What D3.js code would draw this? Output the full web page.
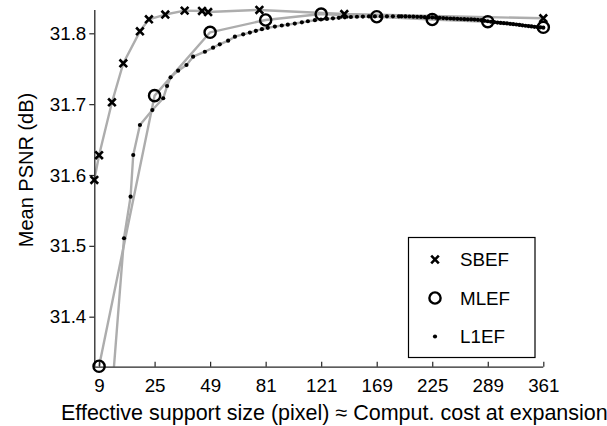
<!DOCTYPE html>
<html>
<head>
<meta charset="utf-8">
<script src="https://cdn.jsdelivr.net/npm/d3@7"></script>
<style>
  html, body { margin: 0; padding: 0; background: #fff; }
  svg { display: block; }
  text { font-family: "Liberation Sans", Arial, Helvetica, sans-serif; fill: #000; }
</style>
</head>
<body>
<svg id="chart" width="607" height="426"></svg>
<script>
// ---- data ----
const xTicks = [9, 25, 49, 81, 121, 169, 225, 289, 361];
const yTicks = [31.4, 31.5, 31.6, 31.7, 31.8];
const xLabel = "Effective support size (pixel) \u2248 Comput. cost at expansion";
const yLabel = "Mean PSNR (dB)";
const seriesNames = ["SBEF", "MLEF", "L1EF"];

const sbefX = [8, 9, 12, 15, 20, 23, 29, 37, 45, 48, 77, 140, 361];
const sbefY = [31.593, 31.628, 31.7026, 31.7577, 31.8028, 31.8198, 31.8265, 31.832, 31.8315, 31.830, 31.833, 31.8272, 31.8212];

const mlefX = [9, 25, 49, 81, 121, 169, 225, 289, 361];
const mlefY = [31.33, 31.712, 31.8014, 31.8188, 31.8272, 31.8234, 31.8195, 31.8164, 31.8085];

const l1efX = [9, 15.2, 17.1, 17.9, 20.0, 24.2, 28.2, 29.7, 31.1, 34.2, 37.8, 40.8, 46.4, 50.5, 54.0, 58.5, 62.3, 67.1, 71.1, 74.8,
  78.6, 82.4, 87.1, 91.8, 96.0, 101.0, 106.2, 110.7, 116.1, 120.8, 125.6, 130.5, 135.4, 140.5, 145.7, 151.0, 156.3, 161.8, 167.3, 172.9, 178.7, 184.5, 190.4,
  193, 197, 201, 205, 209, 213, 217, 221, 225, 229, 233, 237, 241, 245, 249, 253, 257, 261, 265, 269, 273, 277, 281, 285, 289, 293, 297,
  301, 305, 309, 313, 317, 321, 325, 329, 333, 337, 341, 345, 349, 353, 357, 361];
const l1efY = [31.06, 31.5107, 31.5694, 31.6282, 31.6706, 31.6917, 31.7083, 31.7256, 31.7379, 31.7472, 31.7553, 31.767, 31.774, 31.7797, 31.7845, 31.7896, 31.7952, 31.7986, 31.8010, 31.8035,
  31.8058, 31.8078, 31.8095, 31.8110, 31.8122, 31.8138, 31.8155, 31.8170, 31.8185, 31.8195, 31.8203, 31.8211, 31.8219, 31.8225, 31.8230, 31.8234, 31.8236, 31.8238, 31.8239, 31.8240, 31.8240, 31.8240, 31.8240,
  31.8240, 31.8238, 31.8237, 31.8235, 31.8233, 31.8231, 31.8228, 31.8226, 31.8224, 31.8221, 31.8218, 31.8215, 31.8212, 31.8209, 31.8206, 31.8204, 31.8202, 31.8200, 31.8198, 31.8196, 31.8194, 31.8191, 31.8185, 31.8177, 31.8170, 31.8163, 31.8157,
  31.8152, 31.8147, 31.8143, 31.8139, 31.8134, 31.8129, 31.8124, 31.8118, 31.8113, 31.8107, 31.8102, 31.8097, 31.8092, 31.8088, 31.8084, 31.8080];

// ---- layout ----
const plotL = 94.3, plotR = 543.3, plotT = 10, plotB = 366.7;
const yMin = 31.3294, yMax = 31.8329;

const svg = d3.select("#chart");
const x = d3.scaleSqrt().domain([8, 361]).range([plotL, plotR]);
const y = d3.scaleLinear().domain([yMin, yMax]).range([plotB, plotT]);

svg.append("defs").append("clipPath").attr("id", "clip")
  .append("rect").attr("x", plotL - 6).attr("y", 0).attr("width", plotR - plotL + 20).attr("height", plotB);

const series = [
  { name: seriesNames[0], xs: sbefX, ys: sbefY, type: "x" },
  { name: seriesNames[1], xs: mlefX, ys: mlefY, type: "o" },
  { name: seriesNames[2], xs: l1efX, ys: l1efY, type: "." }
];
series.forEach(s => { s.pts = s.xs.map((v, i) => [v, s.ys[i]]); });

const line = d3.line().x(d => x(d[0])).y(d => y(d[1]));

// lines
const gl = svg.append("g").attr("clip-path", "url(#clip)");
series.forEach(s => {
  gl.append("path").attr("d", line(s.pts))
    .attr("fill", "none").attr("stroke", "#adadad").attr("stroke-width", 2.4)
    .attr("stroke-linejoin", "round");
});

// axes
const axCol = "#262626";
const xAxis = d3.axisBottom(x).tickValues(xTicks).tickSize(-5).tickPadding(10).tickFormat(d3.format("d"));
const gx = svg.append("g").attr("transform", `translate(0,${plotB})`).call(xAxis);
gx.select(".domain").attr("d", `M${plotL},0.5H${plotR}`).attr("stroke", axCol).attr("stroke-width", 1.3);
gx.selectAll(".tick line").attr("stroke", axCol).attr("stroke-width", 1.2);
gx.selectAll(".tick text").attr("font-size", 18.8).attr("font-family", "Liberation Sans, Arial, sans-serif")
  .attr("fill", "#000").attr("dy", "0.71em").attr("y", 12);

const yAxis = d3.axisLeft(y).tickValues(yTicks).tickSize(5).tickPadding(3).tickFormat(d3.format(".1f"));
const gy = svg.append("g").attr("transform", `translate(${plotL},0)`).call(yAxis);
gy.select(".domain").attr("d", `M0.5,${plotT}V${plotB}`).attr("stroke", axCol).attr("stroke-width", 1.3);
gy.selectAll(".tick line").attr("stroke", axCol).attr("stroke-width", 1.2);
gy.selectAll(".tick text").attr("font-size", 18.8).attr("font-family", "Liberation Sans, Arial, sans-serif").attr("fill", "#000");

// markers
function drawMarker(g, type, cx, cy) {
  if (type === "x") {
    const r = 3.8;
    g.append("path").attr("d", `M${cx - r},${cy - r}L${cx + r},${cy + r}M${cx - r},${cy + r}L${cx + r},${cy - r}`)
      .attr("stroke", "#000").attr("stroke-width", 2.6).attr("fill", "none");
  } else if (type === "o") {
    g.append("circle").attr("cx", cx).attr("cy", cy).attr("r", 5.6)
      .attr("fill", "none").attr("stroke", "#000").attr("stroke-width", 2.4);
  } else {
    g.append("circle").attr("cx", cx).attr("cy", cy).attr("r", 2.1).attr("fill", "#000");
  }
}
const gm = svg.append("g");
series.forEach(s => {
  s.pts.filter(d => d[1] >= yMin - 1e-9 && d[1] <= yMax + 0.001)
    .forEach(d => drawMarker(gm, s.type, x(d[0]), y(d[1])));
});

// axis labels
svg.append("text").attr("x", 61).attr("y", 420).attr("font-size", 21.5).text(xLabel);
svg.append("text").attr("transform", "translate(32.5,170) rotate(-90)")
  .attr("text-anchor", "middle").attr("font-size", 20).text(yLabel);

// legend
const lg = svg.append("g");
lg.append("rect").attr("x", 408.5).attr("y", 237.5).attr("width", 126.5).attr("height", 120)
  .attr("fill", "#fff").attr("stroke", "#000").attr("stroke-width", 1.2);
const rowY = [259.5, 298, 336.5];
series.forEach((s, i) => {
  drawMarker(lg, s.type, 435, rowY[i]);
  lg.append("text").attr("x", 460).attr("y", rowY[i]).attr("dy", "0.36em")
    .attr("font-size", 18.8).text(s.name);
});
</script>
</body>
</html>
